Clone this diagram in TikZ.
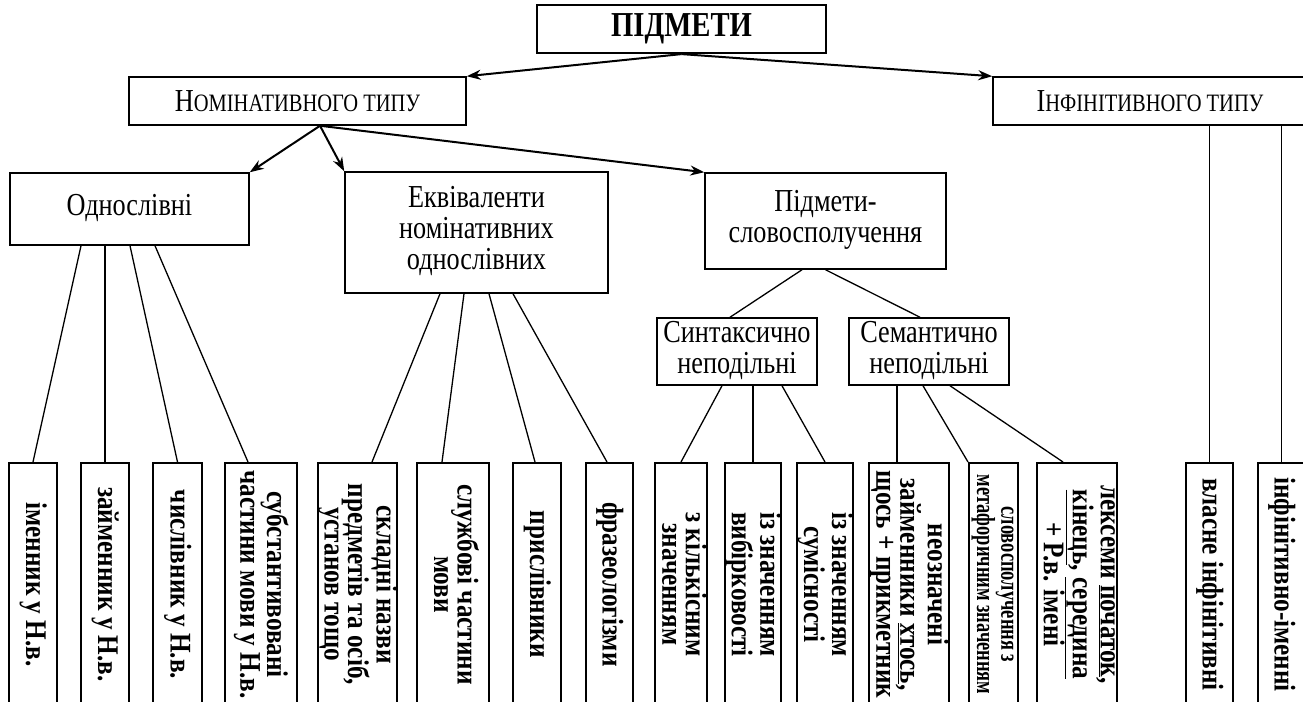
\documentclass[tikz,border=0pt]{standalone}
\usepackage{fontspec}
\setmainfont{Liberation Serif}
\usepackage{graphicx}
\usetikzlibrary{arrows.meta}

\tikzset{
  box/.style={draw, line width=1.5pt, inner sep=0pt, align=center},
  topbox/.style={box, line width=2.2pt},
  leaf/.style={draw, line width=2pt, inner sep=0pt, anchor=north, minimum height=243pt},
  arr/.style={line width=2pt, -{Stealth[length=14pt,width=10pt]}},
  link/.style={line width=1.3pt},
}
% narrow serif caption for the upper boxes
\newcommand\htext[2][32]{\scalebox{0.82}[1]{\fontsize{#1}{31}\selectfont
  \begin{tabular}{@{}c@{}}#2\end{tabular}}}
% caption in capitals with a larger first letter
\newcommand\capline[2]{\scalebox{0.82}[1]{\fontsize{32}{31}\selectfont #1%
  \fontsize{25}{31}\selectfont #2}}
% vertical bold caption, read from top to bottom
\newcommand\vlabel[2][30]{\rotatebox{-90}{\scalebox{0.84}[1]{%
  \fontsize{#1}{23.5}\selectfont\bfseries\begin{tabular}{@{}c@{}}#2\end{tabular}}}}

\begin{document}
\begin{tikzpicture}[x=1pt,y=-1pt]
\useasboundingbox (0,0) rectangle (1303,701);
\clip (0,0) rectangle (1303,701);

% upper levels
\node[topbox, minimum width=289pt, minimum height=48pt] (top) at (681.5,29)
  {\scalebox{0.82}[1]{\fontsize{35}{31}\selectfont\bfseries ПІДМЕТИ}};
\node[box, minimum width=337pt, minimum height=48pt] (nom) at (297.5,101) {\capline{Н}{ОМІНАТИВНОГО ТИПУ}};
\node[box, minimum width=314pt, minimum height=48pt] (inf) at (1150,101) {\capline{І}{НФІНІТИВНОГО ТИПУ}};

\node[box, minimum width=239pt, minimum height=72pt] (ones) at (129.5,209) {\htext{Однослівні}};
\node[box, minimum width=263pt, minimum height=121pt] (eq) at (476.5,232.5) {\htext{Еквіваленти\\номінативних\\однослівних}};
\node[box, minimum width=241pt, minimum height=96pt] (phr) at (825.5,221) {\htext{Підмети-\\словосполучення}};
\node[box, minimum width=160pt, minimum height=67pt] (synt) at (737,351.5) {\htext{Синтаксично\\неподільні}};
\node[box, minimum width=160pt, minimum height=67pt] (sem) at (929,351.5) {\htext{Семантично\\неподільні}};

% lowest level
\node[leaf, minimum width=48pt] (l1) at (33,462) {\vlabel{іменник у Н.в.}};
\node[leaf, minimum width=48pt] (l2) at (105,462) {\vlabel{займенник у Н.в.}};
\node[leaf, minimum width=49pt] (l3) at (177.5,462) {\vlabel{числівник у Н.в.}};
\node[leaf, minimum width=72pt] (l4) at (261,462) {\vlabel{субстантивовані\\частини мови у Н.в.}};
\node[leaf, minimum width=71pt] (l5) at (357.5,462) {\vlabel{складні назви\\предметів та осіб,\\установ тощо}};
\node[leaf, minimum width=72pt] (l6) at (453,462) {\vlabel{службові частини\\мови}};
\node[leaf, minimum width=48pt] (l7) at (537,462) {\vlabel{прислівники}};
\node[leaf, minimum width=47pt] (l8) at (609.5,462) {\vlabel{фразеологізми}};
\node[leaf, minimum width=48pt] (l9) at (681,462) {\vlabel{з кількісним\\значенням}};
\node[leaf, minimum width=48pt] (l10) at (753,462) {\vlabel{із значенням\\вибірковості}};
\node[leaf, minimum width=48pt] (l11) at (825,462) {\vlabel{із значенням\\сумісності}};
\node[leaf, minimum width=72pt] (l12) at (909,462) {\vlabel{неозначені\\займенники \underline{хтось},\\щось + прикметник}};
\node[leaf, minimum width=49pt] (l13) at (993.5,462) {\rotatebox{-90}{\scalebox{0.71}[1]{\fontsize{26}{21}\selectfont\bfseries\begin{tabular}{@{}c@{}}словосполучення з\\метафоричним значенням\end{tabular}}}};
\node[leaf, minimum width=72pt] (l14) at (1077,462) {\vlabel{лексеми \underline{початок},\\\underline{кінець}, \underline{середина}\\+ Р.в. імені}};
\node[leaf, minimum width=47pt] (l15) at (1209.5,462) {\vlabel{власне інфінітивні}};
\node[leaf, minimum width=47pt] (l16) at (1281.5,462) {\vlabel{інфінітивно-іменні}};

% arrows
\draw[arr] (top.south) -- (nom.north east);
\draw[arr] (top.south) -- (inf.north west);
\draw[arr] ([xshift=22.5pt]nom.south) -- (ones.north east);
\draw[arr] ([xshift=22.5pt]nom.south) -- (eq.north west);
\draw[arr] ([xshift=22.5pt]nom.south) -- (phr.north west);

% plain links
\draw[link] ([xshift=-48.5pt]ones.south) -- (l1.north);
\draw[link] ([xshift=-24.5pt]ones.south) -- (l2.north);
\draw[link] ([xshift=0.5pt]ones.south) -- (l3.north);
\draw[link] ([xshift=25.5pt]ones.south) -- ([xshift=-13pt]l4.north);

\draw[link] ([xshift=-36.5pt]eq.south) -- ([xshift=14.5pt]l5.north);
\draw[link] ([xshift=-12.5pt]eq.south) -- ([xshift=-11pt]l6.north);
\draw[link] ([xshift=12.5pt]eq.south) -- ([xshift=-2pt]l7.north);
\draw[link] ([xshift=36.5pt]eq.south) -- ([xshift=-2.5pt]l8.north);

\draw[link] ([xshift=-23.5pt]phr.south) -- ([xshift=-7pt]synt.north);
\draw[link] (phr.south) -- ([xshift=-9pt]sem.north);

\draw[link] ([xshift=-15pt]synt.south) -- (l9.north);
\draw[link] ([xshift=16pt]synt.south) -- (l10.north);
\draw[link] ([xshift=45pt]synt.south) -- (l11.north);

\draw[link] ([xshift=-32pt]sem.south) -- ([xshift=-12pt]l12.north);
\draw[link] ([xshift=-6pt]sem.south) -- (l13.north west);
\draw[link] ([xshift=21pt]sem.south) -- ([xshift=-14pt]l14.north);

\draw[link] (l15.north |- inf.south) -- (l15.north);
\draw[link] (l16.north |- inf.south) -- (l16.north);
\end{tikzpicture}
\end{document}
